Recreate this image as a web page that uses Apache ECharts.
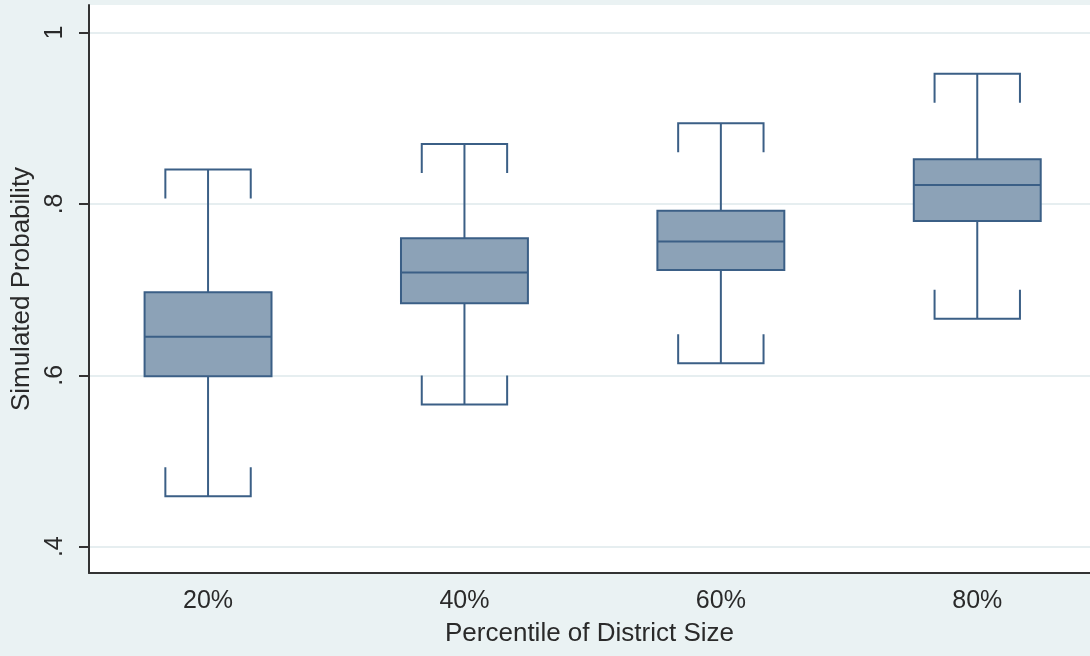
<!DOCTYPE html>
<html>
<head>
<meta charset="utf-8">
<script src="https://cdn.jsdelivr.net/npm/echarts@6/dist/echarts.min.js"></script>
<style>
html,body{margin:0;padding:0;background:#eaf2f3;}
#chart{width:1090px;height:656px;}
</style>
</head>
<body>
<div id="chart"></div>
<script>
// ---- data ----
var categories = ['20%', '40%', '60%', '80%'];
var lowerWhisker = [0.459, 0.566, 0.614, 0.666];
var q1Values     = [0.599, 0.684, 0.723, 0.780];
var medianValues = [0.645, 0.720, 0.756, 0.822];
var q3Values     = [0.697, 0.760, 0.792, 0.852];
var upperWhisker = [0.840, 0.870, 0.894, 0.952];
var yTickValues  = [0.4, 0.6, 0.8, 1];
var xTickValues  = [1, 2, 3, 4];

var boxData = categories.map(function (c, i) {
  return [i + 1, lowerWhisker[i], q1Values[i], medianValues[i], q3Values[i], upperWhisker[i]];
});

var FILL = '#8ca2b7', STROKE = '#3b5f86';
var BOX_W = 0.495, CAP_W = 0.333, CAP_TICK = 29;

function renderBox(params, api) {
  var x = api.value(0);
  var pLow = api.coord([x, api.value(1)]);
  var pQ1 = api.coord([x, api.value(2)]);
  var pMed = api.coord([x, api.value(3)]);
  var pQ3 = api.coord([x, api.value(4)]);
  var pUp = api.coord([x, api.value(5)]);
  var bw = api.size([BOX_W, 0])[0];
  var cw = api.size([CAP_W, 0])[0];
  var cx = pMed[0];
  var ls = {stroke: STROKE, lineWidth: 2, fill: null};
  return {
    type: 'group',
    children: [
      {type: 'line', shape: {x1: cx, y1: pQ3[1], x2: cx, y2: pUp[1]}, style: ls},
      {type: 'line', shape: {x1: cx, y1: pQ1[1], x2: cx, y2: pLow[1]}, style: ls},
      {type: 'polyline', shape: {points: [[cx - cw / 2, pUp[1] + CAP_TICK], [cx - cw / 2, pUp[1]], [cx + cw / 2, pUp[1]], [cx + cw / 2, pUp[1] + CAP_TICK]]}, style: ls},
      {type: 'polyline', shape: {points: [[cx - cw / 2, pLow[1] - CAP_TICK], [cx - cw / 2, pLow[1]], [cx + cw / 2, pLow[1]], [cx + cw / 2, pLow[1] - CAP_TICK]]}, style: ls},
      {type: 'rect', shape: {x: cx - bw / 2, y: pQ3[1], width: bw, height: pQ1[1] - pQ3[1]}, style: {fill: FILL, stroke: STROKE, lineWidth: 2}},
      {type: 'line', shape: {x1: cx - bw / 2, y1: pMed[1], x2: cx + bw / 2, y2: pMed[1]}, style: ls}
    ]
  };
}

var chart = echarts.init(document.getElementById('chart'));
var FONT = 'Liberation Sans';
chart.setOption({
  backgroundColor: '#eaf2f3',
  animation: false,
  grid: {left: 89, right: 0, top: 5, bottom: 83, show: true, backgroundColor: '#ffffff', borderWidth: 0},
  xAxis: {
    type: 'value', min: 0.5357, max: 4.4397,
    name: 'Percentile of District Size', nameLocation: 'middle', nameGap: 48,
    nameTextStyle: {fontFamily: FONT, fontSize: 26, color: '#2a2a2a'},
    axisLine: {show: true, onZero: false, lineStyle: {color: '#333', width: 2}},
    axisTick: {show: false},
    splitLine: {show: false},
    axisLabel: {customValues: xTickValues, fontFamily: FONT, fontSize: 25, color: '#2a2a2a', margin: 16,
      formatter: function (v) { return categories[Math.round(v) - 1]; }}
  },
  yAxis: {
    type: 'value', min: 0.3693, max: 1.0321,
    name: 'Simulated Probability', nameLocation: 'middle', nameGap: 51, nameRotate: 90,
    nameTextStyle: {fontFamily: FONT, fontSize: 26, color: '#2a2a2a'},
    axisLine: {show: true, onZero: false, lineStyle: {color: '#333', width: 2}},
    axisTick: {show: true, customValues: yTickValues, length: 10, lineStyle: {color: '#333', width: 2}},
    splitLine: {show: true, lineStyle: {color: '#e6eef0', width: 2}},
    axisLabel: {customValues: yTickValues, rotate: 90, fontFamily: FONT, fontSize: 25, color: '#2a2a2a', margin: 21,
      formatter: function (v) { return v === 1 ? '1' : String(v).replace(/^0/, ''); }}
  },
  series: [{
    type: 'custom',
    renderItem: renderBox,
    data: boxData,
    encode: {x: 0, y: [1, 2, 3, 4, 5]},
    z: 5
  }]
});
</script>
</body>
</html>
